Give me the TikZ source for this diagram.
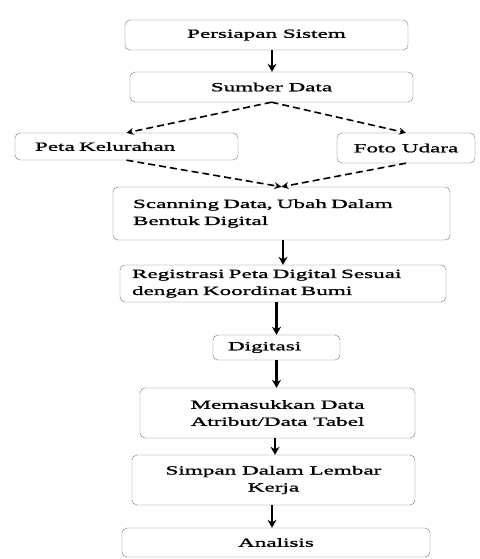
\documentclass[tikz,border=0pt]{standalone}
\usepackage{fontspec}
\setmainfont{Liberation Serif}[FakeStretch=1.85, FakeBold=1.2]
\usetikzlibrary{arrows.meta}
\tikzset{
  x=1pt, y=-1pt, % pixel-like units, y runs downwards
  box/.style={draw=black!55, rounded corners=5pt, inner sep=0pt, align=center,
    font=\fontsize{12.5}{17}\selectfont}, % every step of the flow
  flow/.style={-{Stealth[length=8pt,width=9pt]}, line width=2.6pt}, % solid arrows
  choice/.style={-{Stealth[length=7pt,width=7pt]}, dash pattern=on 7pt off 4pt, line width=1.6pt}, % dashed arrows
}
\begin{document}
\begin{tikzpicture}
    \useasboundingbox (0,0) rectangle (479,559);

    \node[box, minimum width=283pt, minimum height=30pt] (persiapan) at (266.5,35) {Persiapan Sistem};
    \node[box, minimum width=283pt, minimum height=30pt] (sumber) at (271.5,87) {Sumber Data};
    \node[box, minimum width=223pt, minimum height=27pt, text width=183pt, align=left] (kelurahan) at (126.5,146.5) {Peta Kelurahan};
    \node[box, minimum width=138pt, minimum height=30pt] (udara) at (406,148) {Foto Udara};
    \node[box, minimum width=337pt, minimum height=53pt, text width=297pt, align=left] (scanning) at (281.5,213.5) {Scanning Data, Ubah Dalam\\Bentuk Digital};
    \node[box, minimum width=326pt, minimum height=37pt, text width=302pt, align=left] (registrasi) at (283,283.5) {Registrasi Peta Digital Sesuai\\dengan Koordinat Bumi};
    \node[box, minimum width=127pt, minimum height=25pt, text width=97pt, align=left] (digitasi) at (276.5,347.5) {Digitasi};
    \node[box, minimum width=275pt, minimum height=50pt] (atribut) at (277.5,413) {Memasukkan Data\\Atribut/Data Tabel};
    \node[box, minimum width=283pt, minimum height=50pt] (simpan) at (273.5,480) {Simpan Dalam Lembar\\Kerja};
    \node[box, minimum width=308pt, minimum height=29pt] (analisis) at (276,542.5) {Analisis};

    \draw[flow] (persiapan.south -| 272,0) -- (sumber.north -| 272,0);
    \draw[choice] (sumber.south) -- (kelurahan.north);
    \draw[choice] (sumber.south) -- (udara.north);
    \draw[choice] (kelurahan.south) -- (scanning.north);
    \draw[choice] (udara.south) -- (scanning.north);
    \draw[flow] (scanning.south -| registrasi.north) -- (registrasi.north);
    \draw[flow] (registrasi.south -| digitasi.north) -- (digitasi.north);
    \draw[flow] (digitasi.south) -- (digitasi.south |- atribut.north);
    \draw[flow] (atribut.south -| 275,0) -- (simpan.north -| 275,0);
    \draw[flow] (simpan.south -| 272,0) -- (analisis.north -| 272,0);
\end{tikzpicture}
\end{document}
